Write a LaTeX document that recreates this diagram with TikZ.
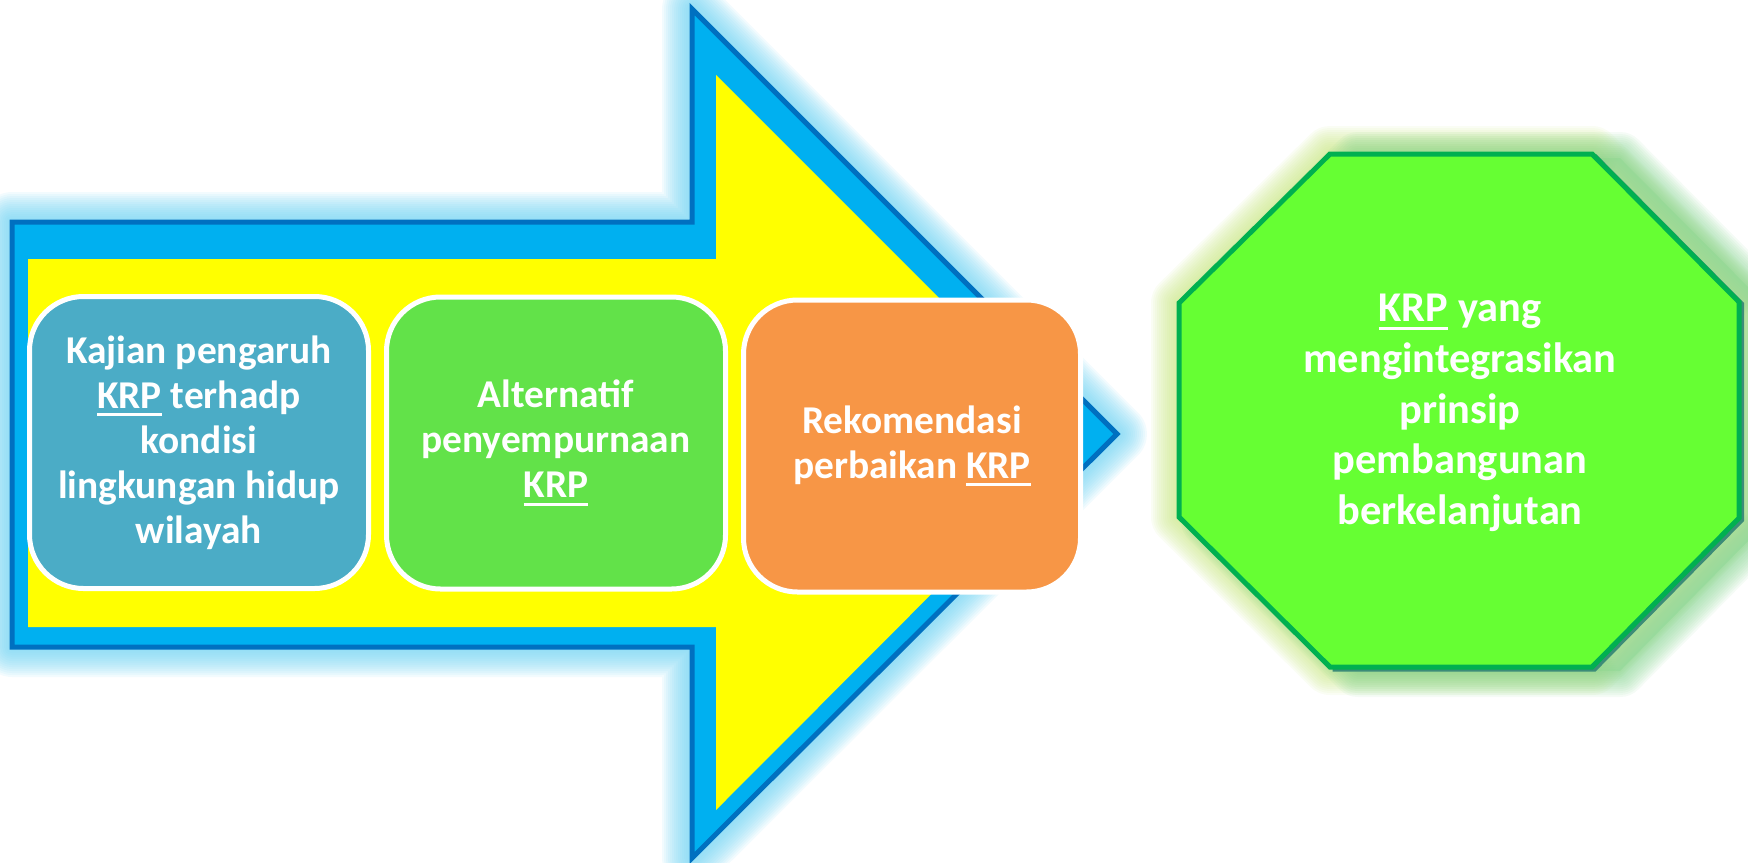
\documentclass[tikz,border=0pt]{standalone}
\usepackage{fontspec}
\setmainfont{Carlito}

% white underline used for the KRP abbreviation
\newcommand\krpline[1]{\setbox0\hbox{#1}\rlap{\rule[-4pt]{\wd0}{1.5pt}}\box0\relax}

\begin{document}
\begin{tikzpicture}[x=0.5pt,y=-0.5pt]
\definecolor{arrowline}{RGB}{0,112,192}
\definecolor{arrowfill}{RGB}{0,176,240}
\definecolor{glowblue}{RGB}{110,210,242}
\definecolor{shaftyellow}{RGB}{255,255,0}
\definecolor{tealbox}{RGB}{75,172,198}
\definecolor{greenbox}{RGB}{98,226,73}
\definecolor{orangebox}{RGB}{247,150,70}
\definecolor{goalfill}{RGB}{102,255,51}
\definecolor{goalline}{RGB}{0,176,80}
\definecolor{goaledge}{RGB}{60,140,120}
\definecolor{glowlime}{RGB}{200,230,130}
\definecolor{glowgreen}{RGB}{135,212,145}

\tikzset{
  stepbox/.style={draw=white, line width=2.5pt, rounded corners=27pt,
    minimum width=169.5pt, minimum height=146pt, inner sep=0pt,
    text=white, align=center, font=\fontsize{19.7}{22.5}\selectfont\bfseries},
  goaltext/.style={text=white, align=center, inner sep=0pt,
    font=\fontsize{21.2}{25.3}\selectfont\bfseries},
  glowline/.style={line width=#1, opacity=0.085, line join=round},
}

\useasboundingbox (0,0) rectangle (1748,862);

% outline of the big block arrow and of the goal octagon
\def\arrowpath{(12,222) -- (692,222) -- (692,9) -- (1117,434) -- (692,858) -- (692,647) -- (12,647) -- cycle}
\def\goalpath{(1330,154) -- (1592,154) -- (1739,302) -- (1739,518) -- (1592,667) -- (1330,667) -- (1179,517) -- (1179,303) -- cycle}

% soft glow around the arrow
\foreach \w in {2,4,...,30} \draw[glowblue, glowline=\w pt] \arrowpath;
\draw[arrowline, fill=arrowfill, line width=2.5pt] \arrowpath;
\fill[shaftyellow] (28,259) -- (716,259) -- (716,75) -- (1083,442) -- (716,810) -- (716,627) -- (28,627) -- cycle;

% the three steps
\node[stepbox, fill=tealbox] (kajian) at (199,442.5)
  {Kajian pengaruh\\\krpline{KRP} terhadp\\kondisi\\lingkungan hidup\\wilayah};
\node[stepbox, fill=greenbox] (alternatif) at (556,443)
  {Alternatif\\penyempurnaan\\\krpline{KRP}};
\node[stepbox, fill=orangebox, minimum width=168.5pt] (rekomendasi) at (912,446)
  {Rekomendasi\\perbaikan \krpline{KRP}};

% glow and shadow of the octagon
\foreach \w in {2,4,...,28} \draw[glowlime, glowline=\w pt] \goalpath;
\begin{scope}[shift={(28,4)}]
  \fill[glowgreen, opacity=0.35] \goalpath;
  \foreach \w in {2,4,...,26} \draw[glowgreen, glowline=\w pt] \goalpath;
\end{scope}
\draw[goaledge, line width=2.5pt, shift={(2.5,2)}] (1592,154) -- (1739,302) -- (1739,518) -- (1592,667) -- (1330,667);
\draw[goalline, fill=goalfill, line width=2.5pt] \goalpath;
\node[goaltext] (goal) at (1460,413)
  {\krpline{KRP} yang\\mengintegrasikan\\prinsip\\pembangunan\\berkelanjutan};
\end{tikzpicture}
\end{document}
